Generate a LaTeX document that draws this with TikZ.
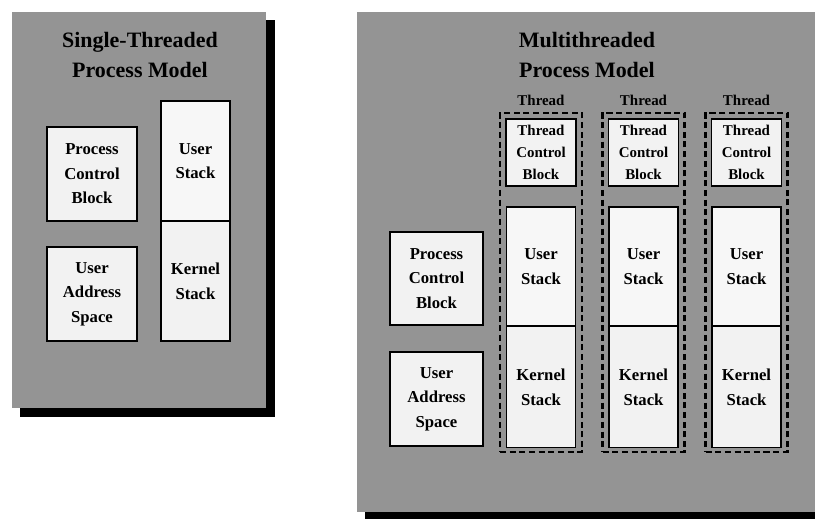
\documentclass[tikz,border=0pt]{standalone}
\usepackage{fontspec}
\setmainfont{Liberation Serif}
\begin{document}
\begin{tikzpicture}[x=0.02cm, y=-0.02cm,
    panel/.style={fill=black!42, draw=none},
    shade/.style={fill=black, draw=none},
    title/.style={align=center, font=\fontsize{12.5}{17}\selectfont\bfseries},
    membox/.style={draw=black, line width=1.1pt, fill=black!5, align=center, inner sep=0pt,
        font=\fontsize{9.5}{14}\selectfont\bfseries},
    tcbbox/.style={membox, font=\fontsize{8.5}{12.5}\selectfont\bfseries},
    threadbox/.style={draw=black, line width=1.4pt, dash pattern=on 3.5pt off 2pt, fill=none,
        inner sep=0pt, minimum width=1.64cm, minimum height=6.78cm},
    tlabel/.style={font=\fontsize{8.5}{10}\selectfont\bfseries}]
    \useasboundingbox (0,0) rectangle (815,519);

    % --- Single-threaded model ---
    \fill[shade] (20,20) rectangle (275,417);
    \fill[panel] (12,12) rectangle (266,408);
    \node[title] (stitle) at (140,55) {Single-Threaded\\Process Model};

    \node[membox, minimum width=1.8cm, minimum height=1.88cm] (spcb) at (92,174) {Process\\Control\\Block};
    \node[membox, minimum width=1.8cm, minimum height=1.88cm] (suas) at (92,294) {User\\Address\\Space};
    \node[membox, fill=black!3, minimum width=1.38cm, minimum height=2.4cm] (sustack) at (195.5,161) {User\\Stack};
    \node[membox, minimum width=1.38cm, minimum height=2.4cm] (skstack) at (195.5,281) {Kernel\\Stack};

    % --- Multithreaded model ---
    \fill[shade] (365,20) rectangle (830,525);
    \fill[panel] (357,12) rectangle (822,512);
    \node[title] (mtitle) at (587,55) {Multithreaded\\Process Model};

    \node[membox, minimum width=1.86cm, minimum height=1.86cm] (mpcb) at (436.5,278.5) {Process\\Control\\Block};
    \node[membox, minimum width=1.86cm, minimum height=1.88cm] (muas) at (436.5,399) {User\\Address\\Space};

    % one column per thread
    \foreach \i/\x in {1/541, 2/643.5, 3/746.5} {
        \node[threadbox] (th\i) at (\x,282.5) {};
        \node[tlabel] (tl\i) at (\x,100) {Thread};
        \node[tcbbox, minimum width=1.4cm, minimum height=1.34cm] (tcb\i) at (\x,152.5) {Thread\\Control\\Block};
        \node[membox, fill=black!3, minimum width=1.38cm, minimum height=2.38cm] (ustack\i) at (\x,266.5) {User\\Stack};
        \node[membox, minimum width=1.38cm, minimum height=2.42cm] (kstack\i) at (\x,387) {Kernel\\Stack};
    }
\end{tikzpicture}
\end{document}
